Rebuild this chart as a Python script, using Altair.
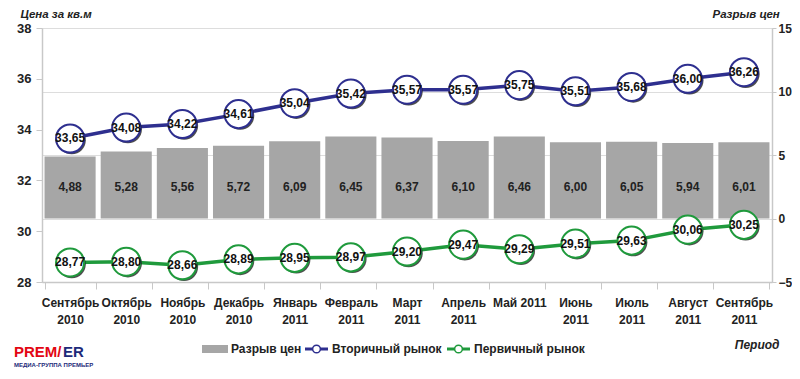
import altair as alt
import pandas as pd

months = ["Сентябрь|2010", "Октябрь|2010", "Ноябрь|2010", "Декабрь|2010", "Январь|2011",
          "Февраль|2011", "Март|2011", "Апрель|2011", "Май 2011", "Июнь|2011",
          "Июль|2011", "Август|2011", "Сентябрь|2011"]
secondary = [33.65, 34.08, 34.22, 34.61, 35.04, 35.42, 35.57, 35.57, 35.75, 35.51, 35.68, 36.00, 36.26]
primary = [28.77, 28.80, 28.66, 28.89, 28.95, 28.97, 29.20, 29.47, 29.29, 29.51, 29.63, 30.06, 30.25]
gap = [4.88, 5.28, 5.56, 5.72, 6.09, 6.45, 6.37, 6.10, 6.46, 6.00, 6.05, 5.94, 6.01]
series_names = ["Разрыв цен", "Вторичный рынок", "Первичный рынок"]

NAVY = "#2e2f8f"
GREEN = "#1f9a3c"
GRAY = "#a6a6a6"
FONT = "Liberation Sans, Arial, sans-serif"
W, H = 730, 254
SHADOW_PATH = "M1.12,0.12A1,1,0,1,1,-0.88,0.12A1,1,0,1,1,1.12,0.12Z"


def fmt(v):
    return f"{v:.2f}".replace(".", ",")


df = pd.DataFrame({
    "month": months,
    "secondary": secondary,
    "primary": primary,
    "gap": gap,
    "sec_lbl": [fmt(v) for v in secondary],
    "pri_lbl": [fmt(v) for v in primary],
    "gap_lbl": [fmt(v) for v in gap],
    "lbl_pos": [2.5] * len(months),
})

xscale = alt.Scale(paddingInner=0.09, paddingOuter=0.045)
xenc = alt.X("month:N", sort=months, title="Период", scale=xscale,
             axis=alt.Axis(labelExpr="split(datum.label, '|')", labelAngle=0,
                           labelFont=FONT, labelFontSize=12, labelFontWeight="bold",
                           labelColor="#222222", labelPadding=8, labelLineHeight=17,
                           tickBand="extent", tickSize=7, tickColor="#c8c8c8",
                           domainColor="#c8c8c8", domainWidth=1.5,
                           titleFont=FONT, titleFontSize=12, titleFontStyle="italic",
                           titleFontWeight="bold", titleColor="#222222",
                           titleAnchor="end", titleAlign="right", titleX=737, titleY=57))
xplain = alt.X("month:N", sort=months, scale=xscale)

right_scale = alt.Scale(domain=[-5, 15], nice=False, zero=False)
left_scale = alt.Scale(domain=[28, 38], nice=False, zero=False)

base = alt.Chart(df)

layers = []

layers.append(base.mark_bar(color=GRAY).encode(
    x=xenc,
    y=alt.Y("gap:Q", scale=right_scale, title="Разрыв цен",
            axis=alt.Axis(orient="right", values=[-5, 0, 5, 10, 15],
                          labelFont=FONT, labelFontSize=12, labelFontWeight="bold",
                          labelColor="#222222", tickColor="#c8c8c8", tickSize=4,
                          labelPadding=2,
                          domainColor="#c8c8c8", domainWidth=1.5,
                          titleAngle=0, titleFont=FONT, titleFontSize=11.5,
                          titleFontStyle="italic", titleFontWeight="bold", titleColor="#222222",
                          titleAlign="left", titleBaseline="middle", titleX=-60, titleY=-14)),
))
layers.append(base.mark_text(font=FONT, fontSize=12, fontWeight="bold", color="#222222").encode(
    x=xplain,
    y=alt.Y("lbl_pos:Q", scale=right_scale, axis=None),
    text="gap_lbl:N",
))


def series(field, lbl, color, with_axis):
    if with_axis:
        yaxis = alt.Axis(orient="left", values=[28, 30, 32, 34, 36, 38],
                         labelFont=FONT, labelFontSize=13, labelFontWeight="bold",
                         labelColor="#222222", tickColor="#c8c8c8", tickSize=6,
                         domainColor="#c8c8c8", domainWidth=1.5, labelPadding=5,
                         titleAngle=0, titleFont=FONT, titleFontSize=11.5,
                         titleFontStyle="italic", titleFontWeight="bold", titleColor="#222222",
                         titleAlign="left", titleBaseline="middle", titleX=-22, titleY=-14)
        y = alt.Y(f"{field}:Q", scale=left_scale, axis=yaxis, title="Цена за кв.м")
    else:
        y = alt.Y(f"{field}:Q", scale=left_scale, axis=None)
    yn = alt.Y(f"{field}:Q", scale=left_scale, axis=None)
    line = base.mark_line(color=color, strokeWidth=3.5).encode(x=xplain, y=y)
    shadow = base.mark_point(filled=True, color="#222222", size=790, opacity=0.8,
                             shape=SHADOW_PATH).encode(x=xplain, y=yn)
    circ = base.mark_point(filled=True, fill="white", stroke=color, strokeWidth=2,
                           size=790, opacity=1, shape="circle").encode(x=xplain, y=yn)
    txt = base.mark_text(font=FONT, fontSize=12, fontWeight="bold", color="#111111").encode(
        x=xplain, y=yn, text=f"{lbl}:N")
    return [line, shadow, circ, txt]


layers += series("secondary", "sec_lbl", NAVY, True)
layers += series("primary", "pri_lbl", GREEN, False)

# legend (decoration)
leg_df = alt.Chart(pd.DataFrame({"name": series_names}))
TXT = dict(align="left", baseline="middle", font=FONT, fontSize=12, fontWeight="bold", color="#222222")
LY = 321


def pick(i):
    return leg_df.transform_filter(alt.datum.name == series_names[i])


layers += [
    pick(0).mark_rect(color=GRAY).encode(x=alt.value(160), x2=alt.value(186), y=alt.value(LY - 4), y2=alt.value(LY + 4)),
    pick(0).mark_text(**TXT).encode(x=alt.value(189), y=alt.value(LY), text="name:N"),
    pick(1).mark_rule(color=NAVY, strokeWidth=3).encode(x=alt.value(263), x2=alt.value(286), y=alt.value(LY)),
    pick(1).mark_point(filled=True, fill="white", stroke=NAVY, strokeWidth=1.5, size=60, opacity=1).encode(
        x=alt.value(274.5), y=alt.value(LY)),
    pick(1).mark_text(**TXT).encode(x=alt.value(290), y=alt.value(LY), text="name:N"),
    pick(2).mark_rule(color=GREEN, strokeWidth=3).encode(x=alt.value(405), x2=alt.value(428), y=alt.value(LY)),
    pick(2).mark_point(filled=True, fill="white", stroke=GREEN, strokeWidth=1.5, size=60, opacity=1).encode(
        x=alt.value(416.5), y=alt.value(LY)),
    pick(2).mark_text(**TXT).encode(x=alt.value(432), y=alt.value(LY), text="name:N"),
]

# logo (decoration)
logo_texts = ["PREM/", "ER", "МЕДИА-ГРУППА   ПРЕМЬЕР"]
logo_df = alt.Chart(pd.DataFrame({"t": logo_texts}))
layers += [
    logo_df.transform_filter(alt.datum.t == logo_texts[0]).mark_text(
        align="left", baseline="middle", font="Liberation Sans", fontSize=15, fontWeight="bold",
        color="#e30613").encode(x=alt.value(-28), y=alt.value(324), text="t:N"),
    logo_df.transform_filter(alt.datum.t == logo_texts[1]).mark_text(
        align="left", baseline="middle", font="Liberation Sans", fontSize=15, fontWeight="bold",
        color="#1d2a7a").encode(x=alt.value(21), y=alt.value(324), text="t:N"),
    logo_df.transform_filter(alt.datum.t == logo_texts[2]).mark_text(
        align="left", baseline="middle", font="Liberation Sans", fontSize=6, fontWeight="bold",
        color="#1d2a7a").encode(x=alt.value(-28), y=alt.value(337), text="t:N"),
]

chart = alt.layer(*layers).resolve_scale(y="independent").properties(
    width=W, height=H,
    autosize=alt.AutoSizeParams(type="none"),
    padding={"left": 34, "top": 20, "right": 20, "bottom": 89},
).configure_view(stroke=None).configure(background="white")

chart.save("out.html", embed_options={"renderer": "svg", "actions": False})
